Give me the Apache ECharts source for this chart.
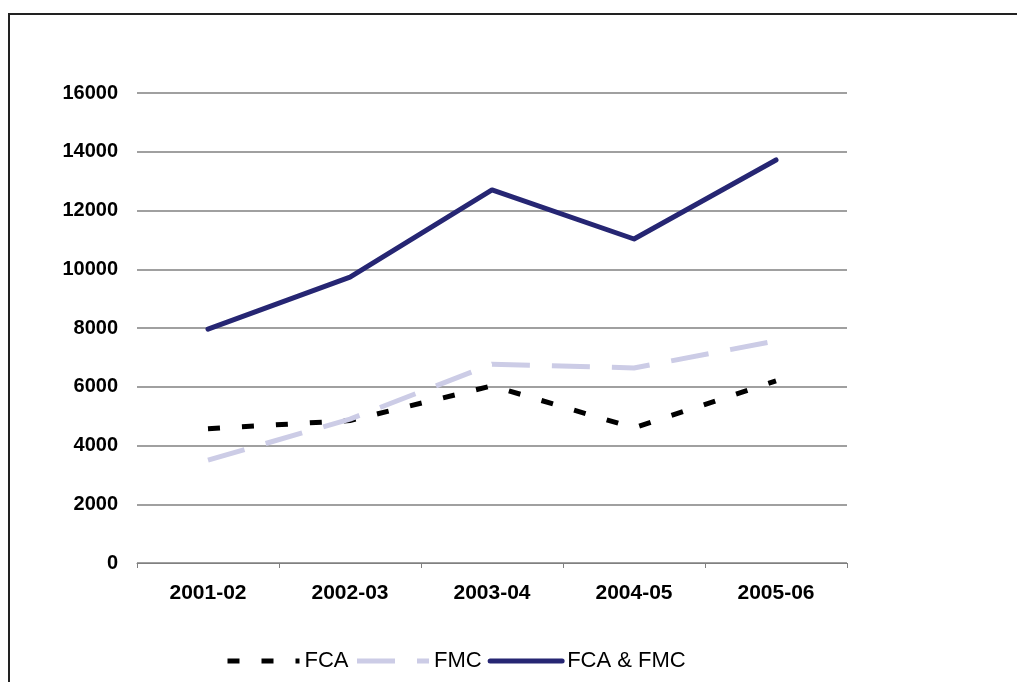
<!DOCTYPE html>
<html>
<head>
<meta charset="utf-8">
<script src="https://cdn.jsdelivr.net/npm/echarts@6/dist/echarts.min.js"></script>
<style>html,body{margin:0;padding:0;background:#fff;}#c{width:1017px;height:682px;}</style>
</head>
<body>
<div id="c"></div>
<script>
const categories = ['2001-02', '2002-03', '2003-04', '2004-05', '2005-06'];
const fca = [4570, 4850, 6030, 4600, 6200];
const fmc = [3500, 4900, 6770, 6640, 7560];
const total = [7960, 9730, 12700, 11030, 13720];
const yTicks = { min: 0, max: 16000, interval: 2000 };

const chart = echarts.init(document.getElementById('c'), null, { renderer: 'canvas' });
chart.setOption({
  animation: false,
  backgroundColor: '#fff',
  grid: { left: 137, right: 170, top: 93, bottom: 119, containLabel: false },
  xAxis: {
    type: 'category',
    data: categories,
    boundaryGap: true,
    axisLine: { lineStyle: { color: '#808080', width: 1 } },
    axisTick: { show: true, length: 5, lineStyle: { color: '#808080' } },
    axisLabel: { color: '#000', fontFamily: 'Liberation Sans, Arial', fontWeight: 'bold', fontSize: 21, margin: 20 }
  },
  yAxis: {
    type: 'value',
    min: yTicks.min, max: yTicks.max, interval: yTicks.interval,
    axisLine: { show: false },
    axisTick: { show: false },
    splitLine: { lineStyle: { color: '#808080', width: 1.5 } },
    axisLabel: { color: '#000', fontFamily: 'Liberation Sans, Arial', fontWeight: 'bold', fontSize: 20, margin: 19,
      formatter: function (v) { return String(v); } }
  },
  legend: {
    left: 220, top: 645,
    itemWidth: 72, itemHeight: 14, itemGap: 6,
    itemStyle: { opacity: 0 },
    lineStyle: { width: 5 },
    textStyle: { color: '#000', fontFamily: 'Liberation Sans, Arial', fontSize: 22 },
    data: ['FCA', 'FMC', 'FCA & FMC']
  },
  series: [
    {
      name: 'FCA', type: 'line', data: fca, symbol: 'none',
      lineStyle: { color: '#000', width: 5, type: [12, 22], cap: 'butt' },
      itemStyle: { color: '#000' }
    },
    {
      name: 'FMC', type: 'line', data: fmc, symbol: 'none',
      lineStyle: { color: '#CCCCE6', width: 5, type: [38, 22], cap: 'butt' },
      itemStyle: { color: '#CCCCE6' }
    },
    {
      name: 'FCA & FMC', type: 'line', data: total, symbol: 'none',
      lineStyle: { color: '#262673', width: 5, cap: 'round', join: 'round' },
      itemStyle: { color: '#262673' }
    }
  ],
  graphic: [
    { type: 'line', shape: { x1: 8, y1: 14, x2: 1017, y2: 14 }, style: { stroke: '#222', lineWidth: 2 } },
    { type: 'line', shape: { x1: 9, y1: 13, x2: 9, y2: 682 }, style: { stroke: '#222', lineWidth: 2 } }
  ]
});
</script>
</body>
</html>
